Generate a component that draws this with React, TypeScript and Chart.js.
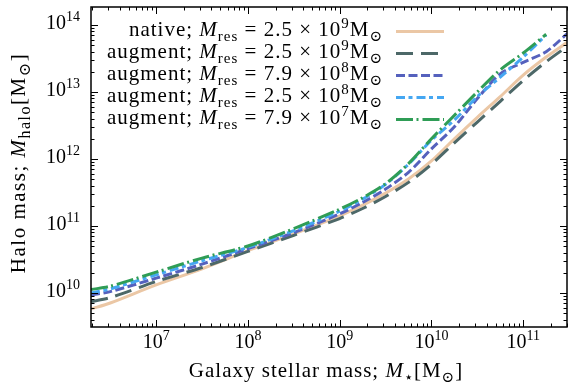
import { useEffect, useRef } from "react";
import { Chart, registerables } from "chart.js";

Chart.register(...registerables);

// log10 of galaxy stellar mass (x)
const stellarMassLog = [6.29, 6.5, 7.0, 7.5, 8.0, 8.5, 9.0, 9.25, 9.5, 9.75, 10.0, 10.25, 10.5, 10.75, 11.0, 11.25, 11.48];
// log10 of halo mass (y) per series
const nativeLog = [9.76, 9.85, 10.12, 10.36, 10.63, 10.88, 11.15, 11.31, 11.49, 11.7, 11.97, 12.3, 12.62, 12.93, 13.25, 13.52, 13.74];
const augment25e9Log = [9.87, 9.93, 10.17, 10.38, 10.62, 10.86, 11.11, 11.26, 11.44, 11.65, 11.92, 12.24, 12.55, 12.86, 13.17, 13.45, 13.68];
const augment79e8Log = [9.97, 10.02, 10.22, 10.43, 10.66, 10.9, 11.18, 11.35, 11.55, 11.8, 12.15, 12.48, 12.9, 13.27, 13.44, 13.6, 13.87];
const augment25e8Log = [10.0, 10.06, 10.27, 10.48, 10.68, 10.93, 11.22, 11.4, 11.62, 11.92, 12.28, 12.58, 12.93, 13.22, 13.52, 13.85, null];
const augment79e7Log = [10.05, 10.1, 10.31, 10.52, 10.7, 10.96, 11.25, 11.42, 11.63, 11.93, 12.3, 12.65, 13.0, 13.33, 13.58, 13.86, null];

const seriesKinds = ["native", "augment", "augment", "augment", "augment"];
const seriesMant = ["2.5", "2.5", "7.9", "2.5", "7.9"];
const seriesExp = ["9", "9", "8", "8", "7"];

const xTickExps = [7, 8, 9, 10, 11];
const yTickExps = [10, 11, 12, 13, 14];

const X_MIN = 1.95e6;
const X_MAX = 3.0e11;
const Y_MIN = 3.1e9;
const Y_MAX = 1.85e14;

const STYLES = [
  { color: "#ebc7a5", dash: [] as number[] },
  { color: "#4d6868", dash: [17, 8] },
  { color: "#5561bd", dash: [9, 3.5] },
  { color: "#45a7f2", dash: [9, 3.5, 4, 4] },
  { color: "#2f9d56", dash: [17, 3.5, 2, 4] },
];

const FONT = '"Liberation Serif", "DejaVu Serif", serif';

type Seg = [string, string];
type TextStyle = { F: number; S: number; ls: number };
const TICK_STYLE: TextStyle = { F: 20, S: 14, ls: 0 };
const TEXT_STYLE: TextStyle = { F: 21, S: 15, ls: 1 };
const YTITLE_STYLE: TextStyle = { F: 21, S: 16, ls: 1.5 };

function fontFor(kind: string, st: TextStyle) {
  if (kind === "i") return `italic ${st.F}px ${FONT}`;
  if (kind === "sub" || kind === "sup") return `${st.S}px ${FONT}`;
  return `${st.F}px ${FONT}`;
}
function dyFor(kind: string) {
  if (kind === "sub") return 5;
  if (kind === "sup") return -8;
  return 0;
}
function richWidth(ctx: CanvasRenderingContext2D, segs: Seg[], st: TextStyle) {
  let w = 0;
  for (const [t, k] of segs) {
    ctx.font = fontFor(k, st);
    w += ctx.measureText(t).width;
  }
  return w;
}
function drawRich(ctx: CanvasRenderingContext2D, segs: Seg[], x: number, y: number, align: string, st: TextStyle) {
  (ctx as any).letterSpacing = st.ls + "px";
  const w = richWidth(ctx, segs, st);
  let cx = align === "right" ? x - w : align === "center" ? x - w / 2 : x;
  ctx.textAlign = "left";
  ctx.textBaseline = "alphabetic";
  ctx.fillStyle = "#000";
  for (const [t, k] of segs) {
    ctx.font = fontFor(k, st);
    ctx.fillText(t, cx, y + dyFor(k));
    cx += ctx.measureText(t).width;
  }
  (ctx as any).letterSpacing = "0px";
}

const decorPlugin = {
  id: "decor",
  afterDraw(chart: any) {
    const ctx: CanvasRenderingContext2D = chart.ctx;
    const { left, right, top, bottom } = chart.chartArea;
    const xs = chart.scales.x;
    const ys = chart.scales.y;
    ctx.save();
    // ticks
    ctx.strokeStyle = "#000";
    ctx.lineWidth = 1;
    ctx.setLineDash([]);
    for (let d = 6; d <= 11; d++) {
      for (let k = 1; k <= 9; k++) {
        const v = k * Math.pow(10, d);
        if (v < X_MIN || v > X_MAX) continue;
        const px = Math.round(xs.getPixelForValue(v)) + 0.5;
        const len = k === 1 ? 7 : 3.5;
        ctx.beginPath();
        ctx.moveTo(px, bottom);
        ctx.lineTo(px, bottom - len);
        ctx.moveTo(px, top);
        ctx.lineTo(px, top + len);
        ctx.stroke();
      }
    }
    for (let d = 9; d <= 14; d++) {
      for (let k = 1; k <= 9; k++) {
        const v = k * Math.pow(10, d);
        if (v < Y_MIN || v > Y_MAX) continue;
        const py = Math.round(ys.getPixelForValue(v)) + 0.5;
        const len = k === 1 ? 7 : 3.5;
        ctx.beginPath();
        ctx.moveTo(left, py);
        ctx.lineTo(left + len, py);
        ctx.moveTo(right, py);
        ctx.lineTo(right - len, py);
        ctx.stroke();
      }
    }
    // frame
    ctx.lineWidth = 1.5;
    ctx.strokeRect(left, top, right - left, bottom - top);

    // tick labels
    for (const e of xTickExps) {
      const px = xs.getPixelForValue(Math.pow(10, e));
      drawRich(ctx, [["10", "r"], [String(e), "sup"]], px, 348, "center", TICK_STYLE);
    }
    for (const e of yTickExps) {
      const py = ys.getPixelForValue(Math.pow(10, e));
      drawRich(ctx, [["10", "r"], [String(e), "sup"]], 80, py + 4.5, "right", TICK_STYLE);
    }
    // axis titles
    drawRich(
      ctx,
      [["Galaxy stellar mass; ", "r"], ["M", "i"], ["\u22C6", "sub"], ["[M", "r"], ["\u2299", "sub"], ["]", "r"]],
      (left + right) / 2 - 3,
      377,
      "center",
      TEXT_STYLE
    );
    ctx.save();
    ctx.translate(25, (top + bottom) / 2 - 4);
    ctx.rotate(-Math.PI / 2);
    drawRich(
      ctx,
      [["Halo mass; ", "r"], ["M", "i"], ["halo", "sub"], ["[M", "r"], ["\u2299", "sub"], ["]", "r"]],
      0,
      0,
      "center",
      YTITLE_STYLE
    );
    ctx.restore();

    // legend
    for (let i = 0; i < 5; i++) {
      const ly = 31 + i * 22;
      drawRich(
        ctx,
        [
          [seriesKinds[i] + "; ", "r"],
          ["M", "i"],
          ["res", "sub"],
          [" = " + seriesMant[i] + " \u00D7 10", "r"],
          [seriesExp[i], "sup"],
          ["M", "r"],
          ["\u2299", "sub"],
        ],
        383,
        ly + 5,
        "right",
        TEXT_STYLE
      );
      ctx.strokeStyle = STYLES[i].color;
      ctx.lineWidth = 3;
      ctx.lineCap = "butt";
      ctx.setLineDash(STYLES[i].dash);
      ctx.beginPath();
      ctx.moveTo(396, ly + 0.5);
      ctx.lineTo(444, ly + 0.5);
      ctx.stroke();
      ctx.setLineDash([]);
    }
    ctx.restore();
  },
};

export default function App() {
  const ref = useRef<HTMLCanvasElement | null>(null);
  useEffect(() => {
    document.body.style.margin = "0";
    const seriesLogs = [nativeLog, augment25e9Log, augment79e8Log, augment25e8Log, augment79e7Log];
    const datasets = seriesLogs.map((arr, i) => ({
      label: `${seriesKinds[i]} ${seriesMant[i]}e${seriesExp[i]}`,
      data: stellarMassLog
        .map((lx, j) => (arr[j] == null ? null : { x: Math.pow(10, lx), y: Math.pow(10, arr[j] as number) }))
        .filter((p) => p !== null),
      borderColor: STYLES[i].color,
      borderDash: STYLES[i].dash,
      borderWidth: 3,
      borderCapStyle: "butt",
      pointRadius: 0,
      tension: 0.3,
      fill: false,
      order: 5 - i,
    }));
    const chart = new Chart(ref.current as HTMLCanvasElement, {
      type: "line",
      data: { datasets: datasets as any },
      options: {
        animation: false,
        responsive: false,
        maintainAspectRatio: false,
        layout: { padding: { top: 7, right: 1, left: 0, bottom: 0 } },
        plugins: { legend: { display: false }, tooltip: { enabled: false } },
        scales: {
          x: {
            type: "logarithmic",
            min: X_MIN,
            max: X_MAX,
            grid: { display: false },
            border: { display: false },
            ticks: { display: false },
            afterFit: (s: any) => {
              s.height = 56;
            },
          },
          y: {
            type: "logarithmic",
            min: Y_MIN,
            max: Y_MAX,
            grid: { display: false },
            border: { display: false },
            ticks: { display: false },
            afterFit: (s: any) => {
              s.width = 91;
            },
          },
        },
      } as any,
      plugins: [decorPlugin],
    });
    return () => chart.destroy();
  }, []);
  return (
    <div style={{ position: "absolute", left: 0, top: 0, width: 568, height: 383, background: "#fff" }}>
      <canvas ref={ref} width={568} height={383} />
    </div>
  );
}
